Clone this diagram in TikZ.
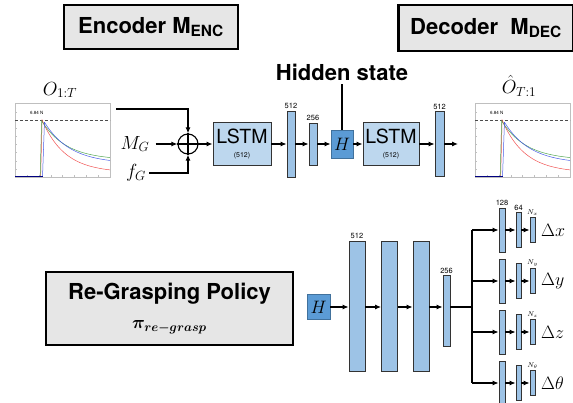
\RequirePackage{fix-cm}
\documentclass[tikz,border=0pt]{standalone}
\usepackage{amsmath}
\usepackage{fontspec}
\setsansfont{TeX Gyre Heros}
\usetikzlibrary{arrows.meta,positioning,calc}

\definecolor{barblue}{RGB}{157,195,230}
\definecolor{lstmblue}{RGB}{189,215,238}
\definecolor{hblue}{RGB}{91,155,213}
\definecolor{hedge}{RGB}{65,113,156}
\definecolor{titlegray}{RGB}{230,230,230}
\definecolor{curvegreen}{RGB}{80,165,80}
\definecolor{curveblue}{RGB}{70,90,230}
\definecolor{curvered}{RGB}{240,80,80}

\begin{document}
\begin{tikzpicture}[x=1pt, y=-1pt, >={Latex[length=6pt,width=5pt]},
    link/.style={line width=1.1pt},
    titlebox/.style={draw, line width=2.6pt, fill=titlegray, inner sep=0pt,
        font=\sffamily\bfseries\fontsize{22}{26}\selectfont},
    lstm/.style={draw=black!80, line width=0.9pt, fill=lstmblue, inner sep=0pt,
        minimum height=43pt, align=center},
    layer/.style={draw=black!80, line width=0.8pt, fill=barblue, inner sep=0pt},
    hbox/.style={draw=hedge, line width=0.8pt, fill=hblue, inner sep=0pt,
        font=\fontsize{18}{18}\selectfont},
    size/.style={font=\sffamily\fontsize{7.5}{8}\selectfont, inner sep=1.5pt},
    nsize/.style={font=\fontsize{7}{7}\selectfont, inner sep=1.5pt},
    mathlbl/.style={font=\fontsize{19}{22}\selectfont, inner sep=0pt}]
    \tikzset{
        forceplot/.pic={
            \begin{scope}[x=95pt, y=74pt]
                \draw[gray!50, line width=0.3pt] (0,0) rectangle (1,1);
                \foreach \t in {0.125,0.25,...,0.9} {
                    \draw[gray!50, line width=0.2pt] (\t,0) -- (\t,0.025);
                }
                \foreach \t in {0.11,0.22,...,0.95} {
                    \draw[gray!50, line width=0.2pt] (0,\t) -- (0.02,\t);
                }
                \draw[black!70, densely dashed, line width=0.45pt] (0,0.77) -- (1,0.77);
                \node[font=\sffamily\fontsize{4.5}{5}\selectfont] (peak) at (0.23,0.86) {6.84 N};
                % measured traces
                \draw[curvered, line width=0.5pt] (0.27,0.01) -- (0.285,0.77)
                    -- plot[domain=0.285:1, samples=40] (\x, {0.06+0.71*exp(-(\x-0.285)/0.24)});
                \draw[curvegreen, line width=0.5pt] (0.265,0.01) -- (0.28,0.76)
                    -- plot[domain=0.28:1, samples=40] (\x, {0.23+0.53*exp(-(\x-0.28)/0.26)});
                \draw[curveblue, line width=0.5pt] (0.29,0.01) -- (0.31,0.74)
                    -- plot[domain=0.31:1, samples=40] (\x, {0.18+0.56*exp(-(\x-0.31)/0.27)});
                \draw[blue!50!black, line width=0.6pt] (0,0.01) -- (0.29,0.01);
            \end{scope}
        }
    }

    \useasboundingbox (0,0) rectangle (573,403);

    % encoder / decoder
    \node[titlebox, minimum width=174pt, minimum height=44pt] (enc) at (151,27) {Encoder M$_{\text{ENC}}$};
    \node[titlebox, minimum width=175pt, minimum height=46pt] (dec) at (486,28) {Decoder\ \ M$_{\text{DEC}}$};
    \node[font=\sffamily\bfseries\fontsize{22}{26}\selectfont] (hidden) at (342,72) {Hidden state};

    \pic (obsplot) at (15,177) {forceplot};
    \pic (predplot) at (475,177) {forceplot};
    \node[mathlbl] (obs) at (60,90) {$O_{1:T}$};
    \node[mathlbl] (pred) at (519,86) {$\hat{O}_{T:1}$};
    \coordinate (obsout) at (116,109);

    \node[draw, circle, line width=1.1pt, minimum size=20pt, inner sep=0pt] (sum) at (188,144) {};
    \draw[line width=1.1pt] (sum.north) -- (sum.south) (sum.west) -- (sum.east);
    \node[mathlbl] (mg) at (135,144) {$M_G$};
    \node[mathlbl] (fg) at (136,173) {$f_G$};

    \node[lstm, minimum width=58pt] (lstmA) at (242,144)
        {\sffamily\fontsize{19.5}{19.5}\selectfont LSTM\\[2pt]\sffamily\fontsize{7}{8}\selectfont (512)};
    \node[layer, minimum width=8pt, minimum height=66pt, label={[size]above:512}] (encA) at (291,144) {};
    \node[layer, minimum width=8pt, minimum height=42pt, label={[size]above:256}] (encB) at (313,144) {};
    \node[hbox, minimum width=22pt, minimum height=28pt] (henc) at (342,144) {$H$};
    \node[lstm, minimum width=56pt] (lstmB) at (391,144)
        {\sffamily\fontsize{19.5}{19.5}\selectfont LSTM\\[2pt]\sffamily\fontsize{7}{8}\selectfont (512)};
    \node[layer, minimum width=9pt, minimum height=65pt, label={[size]above:512}] (decA) at (439.5,144) {};
    \coordinate (decout) at (458,144);

    \draw[link,->] (obsout) -| (sum.north);
    \draw[link,->, shorten <=6pt] (mg) -- (sum);
    \draw[link,->, shorten <=3pt] (fg) -| (sum.south);
    \draw[link,->] (sum) -- (lstmA);
    \draw[link,->] (lstmA) -- (encA);
    \draw[link,->] (encA) -- (encB);
    \draw[link,->] (encB) -- (henc);
    \draw[link,->] (henc) -- (lstmB);
    \draw[link,->] (lstmB) -- (decA);
    \draw[link,->] (decA) -- (decout);
    \draw[link] (henc) -- (hidden);

    % re-grasping policy
    \node[titlebox, minimum width=247pt, minimum height=73pt, align=center] (policy) at (169.5,308.5)
        {Re-Grasping Policy\\[3pt]{\boldmath\fontsize{18}{18}\selectfont$\pi_{re-grasp}$}};
    \node[hbox, minimum width=23pt, minimum height=25pt] (hpol) at (318.5,307) {$H$};
    \node[layer, minimum width=16pt, minimum height=130pt, label={[size]above:512}] (polA) at (357,306) {};
    \node[layer, minimum width=16pt, minimum height=130pt] (polB) at (389.5,306) {};
    \node[layer, minimum width=16pt, minimum height=130pt] (polC) at (421,306) {};
    \node[layer, minimum width=7pt, minimum height=71pt, label={[size]above:256}] (polD) at (446.5,311) {};
    \coordinate (split) at (472,307);

    \draw[link,->] (hpol) -- (hpol -| polA.west);
    \draw[link,->] (polA.east |- hpol) -- (hpol -| polB.west);
    \draw[link,->] (polB.east |- hpol) -- (hpol -| polC.west);
    \draw[link,->] (polC.east |- hpol) -- (hpol -| polD.west);
    \draw[link] (polD.east |- split) -- (split);

    \foreach \name/\yy/\sub in {x/230/x, y/281/y, z/332/z, t/383/\theta} {
        \node[layer, minimum width=6pt, minimum height=44pt] (\name1) at (502,\yy) {};
        \node[layer, minimum width=5pt, minimum height=35pt] (\name2) at (518.5,\yy) {};
        \node[layer, minimum width=5pt, minimum height=25pt,
            label={[nsize]above:$N_{\sub}$}] (\name3) at (532.5,\yy) {};
        \node[font=\fontsize{18}{20}\selectfont, anchor=west, inner sep=0pt] (d\name) at (541,\yy) {$\Delta \sub$};
        \draw[link,->] (split |- \name1) -- (\name1);
        \draw[link,->] (\name1) -- (\name2);
        \draw[link,->] (\name2) -- (\name3);
    }
    \node[size, above] (wx1) at (x1.north) {128};
    \node[size, above] (wx2) at (x2.north) {64};
    \draw[link] (split |- x1) -- (split |- t1);
\end{tikzpicture}
\end{document}
